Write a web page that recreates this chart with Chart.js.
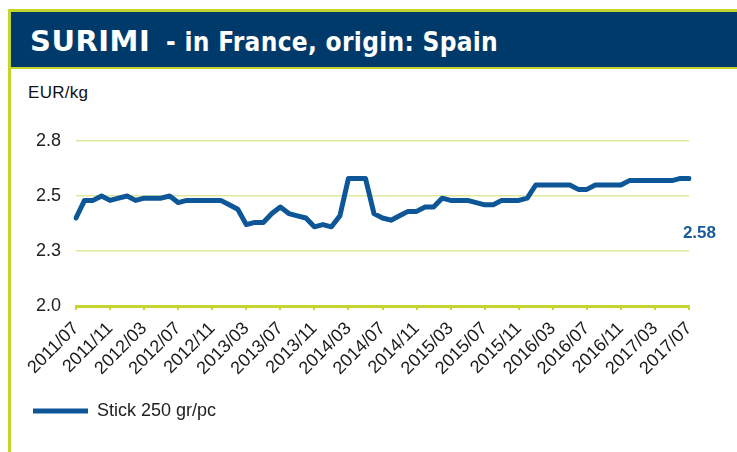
<!DOCTYPE html>
<html>
<head>
<meta charset="utf-8">
<script src="https://cdn.jsdelivr.net/npm/chart.js@4/dist/chart.umd.min.js"></script>
<style>
  html, body { margin: 0; padding: 0; background: #fff; }
  body { width: 737px; height: 452px; position: relative; overflow: hidden; font-family: "Liberation Sans", Arial, sans-serif; }
  .frame-left { position: absolute; left: 8px; top: 9px; width: 3px; bottom: 0; background: #c6d52c; }
  .frame-top { position: absolute; left: 8px; top: 9px; right: 0; height: 3px; background: #c6d52c; }
  .title { position: absolute; left: 11px; top: 12px; right: 0; height: 55px; background: #003a6b; color: #fff; white-space: nowrap; }
  .title .big { position: absolute; left: 19px; top: 12px; font: bold 29px "DejaVu Sans", Verdana, sans-serif; letter-spacing: 0.5px; }
  .title .small { position: absolute; left: 155px; top: 15px; font: bold 26px "DejaVu Sans Condensed", "DejaVu Sans", sans-serif; letter-spacing: 0.3px; }
  .title-rule { position: absolute; left: 11px; top: 67px; right: 0; height: 2px; background: #c6d52c; }
  .unit { position: absolute; left: 28px; top: 83px; font-size: 17px; letter-spacing: 0.3px; color: #111; }
  .chart-box { position: absolute; left: 11px; top: 70px; width: 726px; height: 382px; }
</style>
</head>
<body>
<div class="frame-left"></div>
<div class="frame-top"></div>
<div class="title"><span class="big">SURIMI</span><span class="small">- in France, origin: Spain</span></div>
<div class="title-rule"></div>
<div class="unit">EUR/kg</div>
<div class="chart-box"><canvas id="surimiChart" width="726" height="382"></canvas></div>

<script>
/*  Data ---------------------------------------------------------------------- */
const months = [
  '2011/07', '2011/08', '2011/09', '2011/10', '2011/11', '2011/12',
  '2012/01', '2012/02', '2012/03', '2012/04', '2012/05', '2012/06',
  '2012/07', '2012/08', '2012/09', '2012/10', '2012/11', '2012/12',
  '2013/01', '2013/02', '2013/03', '2013/04', '2013/05', '2013/06',
  '2013/07', '2013/08', '2013/09', '2013/10', '2013/11', '2013/12',
  '2014/01', '2014/02', '2014/03', '2014/04', '2014/05', '2014/06',
  '2014/07', '2014/08', '2014/09', '2014/10', '2014/11', '2014/12',
  '2015/01', '2015/02', '2015/03', '2015/04', '2015/05', '2015/06',
  '2015/07', '2015/08', '2015/09', '2015/10', '2015/11', '2015/12',
  '2016/01', '2016/02', '2016/03', '2016/04', '2016/05', '2016/06',
  '2016/07', '2016/08', '2016/09', '2016/10', '2016/11', '2016/12',
  '2017/01', '2017/02', '2017/03', '2017/04', '2017/05', '2017/06',
  '2017/07'
];

const stickPrices = [
  2.40, 2.48, 2.48, 2.50, 2.48, 2.49,
  2.50, 2.48, 2.49, 2.49, 2.49, 2.50,
  2.47, 2.48, 2.48, 2.48, 2.48, 2.48,
  2.46, 2.44, 2.37, 2.38, 2.38, 2.42,
  2.45, 2.42, 2.41, 2.40, 2.36, 2.37,
  2.36, 2.41, 2.58, 2.58, 2.58, 2.42,
  2.40, 2.39, 2.41, 2.43, 2.43, 2.45,
  2.45, 2.49, 2.48, 2.48, 2.48, 2.47,
  2.46, 2.46, 2.48, 2.48, 2.48, 2.49,
  2.55, 2.55, 2.55, 2.55, 2.55, 2.53,
  2.53, 2.55, 2.55, 2.55, 2.55, 2.57,
  2.57, 2.57, 2.57, 2.57, 2.57, 2.58,
  2.58
];

const yTicks = [2.0, 2.25, 2.5, 2.75];
const seriesName = 'Stick 250 gr/pc';
const lastLabel = '2.58';

const lineColor = '#0d5697';
const limeColor = '#c6d52c';
const gridColor = '#dfe99c';
const fontFamily = '"Liberation Sans", Arial, sans-serif';

/*  Last value label ---------------------------------------------------------- */
const lastValuePlugin = {
  id: 'lastValue',
  afterDatasetsDraw(chart) {
    const { ctx, chartArea } = chart;
    ctx.save();
    ctx.font = 'bold 17px ' + fontFamily;
    ctx.fillStyle = '#1a5a9a';
    ctx.textAlign = 'right';
    ctx.textBaseline = 'middle';
    ctx.fillText(lastLabel, chartArea.right + 27, chartArea.top + 92);
    ctx.restore();
  }
};

/*  Chart --------------------------------------------------------------------- */
new Chart(document.getElementById('surimiChart'), {
  type: 'line',
  data: {
    labels: months,
    datasets: [{
      label: seriesName,
      data: stickPrices,
      borderColor: lineColor,
      backgroundColor: lineColor,
      borderWidth: 5,
      pointRadius: 0,
      tension: 0,
      borderJoinStyle: 'round',
      borderCapStyle: 'round'
    }]
  },
  options: {
    responsive: false,
    animation: false,
    layout: { padding: { left: 12, right: 48, top: 71, bottom: 22 } },
    plugins: {
      legend: {
        position: 'bottom',
        align: 'start',
        labels: {
          usePointStyle: true,
          pointStyle: 'line',
          pointStyleWidth: 55,
          boxHeight: 5,
          color: '#222',
          font: { family: fontFamily, size: 18 },
          padding: 10
        }
      },
      tooltip: { enabled: false }
    },
    scales: {
      x: {
        afterFit: (scale) => { scale.height = 86; },
        grid: { drawOnChartArea: false, drawTicks: true, tickLength: 4, color: limeColor, lineWidth: 2 },
        border: { color: limeColor, width: 3 },
        ticks: {
          autoSkip: false,
          minRotation: 45,
          maxRotation: 45,
          padding: 8,
          color: '#1a1a1a',
          font: { family: fontFamily, size: 18 },
          callback: (value, index) => (index % 4 === 0 ? months[index] : null)
        }
      },
      y: {
        min: 2.0,
        max: 2.75,
        afterFit: (scale) => { scale.width = 53; },
        afterBuildTicks: (scale) => { scale.ticks = yTicks.map((v) => ({ value: v })); },
        grid: { drawTicks: false, color: gridColor, lineWidth: 1.5 },
        border: { display: false },
        ticks: {
          padding: 15,
          color: '#222',
          font: { family: fontFamily, size: 18 },
          callback: (v) => Number(v).toFixed(1)
        }
      }
    }
  },
  plugins: [lastValuePlugin]
});
</script>
</body>
</html>
